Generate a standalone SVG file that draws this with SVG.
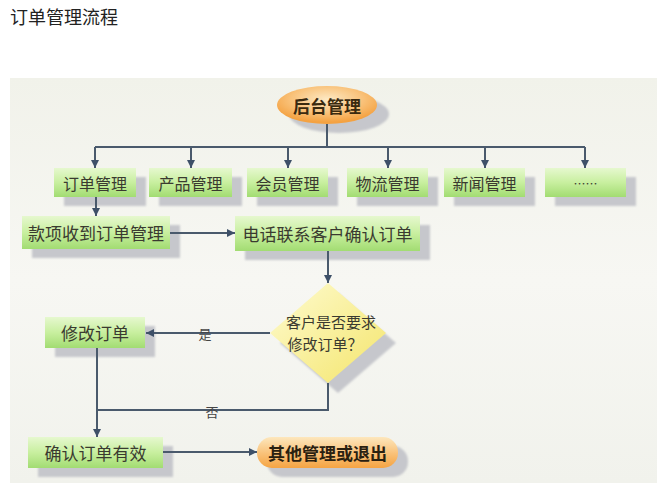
<svg xmlns="http://www.w3.org/2000/svg" width="665" height="485" viewBox="0 0 665 485">
<style>
.t{font-family:"Noto Sans CJK SC","Noto Sans",sans-serif;fill:#3a3a30;font-size:16px;text-anchor:middle;dominant-baseline:central}
.b{fill:url(#gGreen)}
.s{fill:#c6c7cc;filter:url(#blur)}
.c{fill:none;stroke:#4a5a6c;stroke-width:2}
.lbl{font-family:"Noto Sans CJK SC","Noto Sans",sans-serif;fill:#444;font-size:13px;text-anchor:middle;dominant-baseline:central}
</style>
<defs>
<linearGradient id="gGreen" x1="0" y1="0" x2="0" y2="1">
<stop offset="0" stop-color="#e6f8cf"/>
<stop offset="0.5" stop-color="#c8ef9f"/>
<stop offset="1" stop-color="#a2dc72"/>
</linearGradient>
<linearGradient id="gOrange" x1="0" y1="0" x2="0" y2="1">
<stop offset="0" stop-color="#fde7bd"/>
<stop offset="0.55" stop-color="#f9c076"/>
<stop offset="1" stop-color="#f5a443"/>
</linearGradient>
<radialGradient id="gEll" cx="0.5" cy="0.35" r="0.6">
<stop offset="0" stop-color="#fde9c4"/>
<stop offset="0.6" stop-color="#f9c27a"/>
<stop offset="1" stop-color="#f4a242"/>
</radialGradient>
<linearGradient id="gYellow" x1="0" y1="0" x2="1" y2="1">
<stop offset="0" stop-color="#fefbd0"/>
<stop offset="1" stop-color="#f4e56c"/>
</linearGradient>
<linearGradient id="gPanel" x1="0" y1="0" x2="0" y2="1">
<stop offset="0" stop-color="#f1f2ea"/>
<stop offset="0.5" stop-color="#f7f7f3"/>
<stop offset="1" stop-color="#f1f2ec"/>
</linearGradient>
<filter id="blur" x="-10%" y="-20%" width="120%" height="140%">
<feGaussianBlur stdDeviation="1.2"/>
</filter>
<marker id="arr" markerUnits="userSpaceOnUse" markerWidth="10" markerHeight="10" viewBox="0 0 10 10" refX="9" refY="5" orient="auto">
<path d="M1,1 L9,5 L1,9 z" fill="#3e5068"/>
</marker>
</defs>

<text x="10" y="16" style="font-family:'Noto Sans CJK SC','Noto Sans',sans-serif;font-size:18px;fill:#222;dominant-baseline:central">订单管理流程</text>

<rect x="10" y="78" width="647" height="405" fill="url(#gPanel)"/>

<g id="n-root">
<ellipse class="s" cx="339" cy="114" rx="50" ry="19"/>
<ellipse cx="327" cy="105" rx="50" ry="19" fill="url(#gEll)"/>
<text class="t" x="327" y="105" style="font-size:17px;font-weight:bold;fill:#3a2a10">后台管理</text>
</g>

<g id="n-order">
<rect class="s" x="64" y="177" width="82" height="29"/>
<rect class="b" x="54" y="168" width="82" height="29"/>
<text class="t" x="95" y="183">订单管理</text>
</g>
<g id="n-product">
<rect class="s" x="159" y="177" width="83" height="29"/>
<rect class="b" x="149" y="168" width="83" height="29"/>
<text class="t" x="190.5" y="183">产品管理</text>
</g>
<g id="n-member">
<rect class="s" x="257" y="177" width="81" height="29"/>
<rect class="b" x="247" y="168" width="81" height="29"/>
<text class="t" x="287.5" y="183">会员管理</text>
</g>
<g id="n-logistics">
<rect class="s" x="357" y="177" width="81" height="29"/>
<rect class="b" x="347" y="168" width="81" height="29"/>
<text class="t" x="387.5" y="183">物流管理</text>
</g>
<g id="n-news">
<rect class="s" x="454" y="177" width="81" height="29"/>
<rect class="b" x="444" y="168" width="81" height="29"/>
<text class="t" x="484.5" y="183">新闻管理</text>
</g>
<g id="n-more">
<rect class="s" x="555" y="177" width="81" height="29"/>
<rect class="b" x="545" y="168" width="81" height="29"/>
<text class="t" x="585.5" y="183" style="font-size:12px">……</text>
</g>

<g id="n-payment">
<rect class="s" x="32" y="225" width="148" height="33"/>
<rect class="b" x="22" y="216" width="148" height="33"/>
<text class="t" x="96" y="232.5" style="font-size:17px">款项收到订单管理</text>
</g>

<g id="n-phone">
<rect class="s" x="245" y="225" width="185" height="35"/>
<rect class="b" x="235" y="216" width="185" height="35"/>
<text class="t" x="327.5" y="233.5" style="font-size:17px">电话联系客户确认订单</text>
</g>

<g id="n-decision">
<path class="s" d="M338,293 L396,343 L338,393 L280,343 z"/>
<path d="M328,283 L386,333 L328,383 L270,333 z" fill="url(#gYellow)"/>
<text class="t" x="331" y="321" style="font-size:15px">客户是否要求</text>
<text class="t" x="325" y="343" style="font-size:15px">修改订单？</text>
</g>

<g id="n-modify">
<rect class="s" x="55" y="326" width="100" height="31"/>
<rect class="b" x="45" y="317" width="100" height="31"/>
<text class="t" x="95" y="332.5" style="font-size:17px">修改订单</text>
</g>

<g id="n-confirm">
<rect class="s" x="38" y="446" width="135" height="31"/>
<rect class="b" x="28" y="437" width="135" height="31"/>
<text class="t" x="95.5" y="452.5" style="font-size:17px">确认订单有效</text>
</g>

<g id="n-exit">
<rect class="s" x="267" y="446" width="141" height="31" rx="15"/>
<rect x="257" y="437" width="141" height="31" rx="15" fill="url(#gOrange)"/>
<text class="t" x="327.5" y="452.5" style="font-size:17px;font-weight:bold;fill:#2a2010">其他管理或退出</text>
</g>

<g id="connectors">
<path class="c" d="M327,124 V147"/>
<path class="c" d="M95,147 H585"/>
<path class="c" d="M95,147 V168" marker-end="url(#arr)"/>
<path class="c" d="M191,147 V168" marker-end="url(#arr)"/>
<path class="c" d="M288,147 V168" marker-end="url(#arr)"/>
<path class="c" d="M388,147 V168" marker-end="url(#arr)"/>
<path class="c" d="M485,147 V168" marker-end="url(#arr)"/>
<path class="c" d="M585,147 V168" marker-end="url(#arr)"/>
<path class="c" d="M96,197 V216" marker-end="url(#arr)"/>
<path class="c" d="M170,233 H235" marker-end="url(#arr)"/>
<path class="c" d="M328,251 V283" marker-end="url(#arr)"/>
<path class="c" d="M270,333 H146" marker-end="url(#arr)"/>
<path class="c" d="M97,348 V437" marker-end="url(#arr)"/>
<path class="c" d="M328,383 V410 H97"/>
<path class="c" d="M163,452 H257" marker-end="url(#arr)"/>
<text class="lbl" x="205" y="333">是</text>
<text class="lbl" x="212" y="411">否</text>
</g>
</svg>
